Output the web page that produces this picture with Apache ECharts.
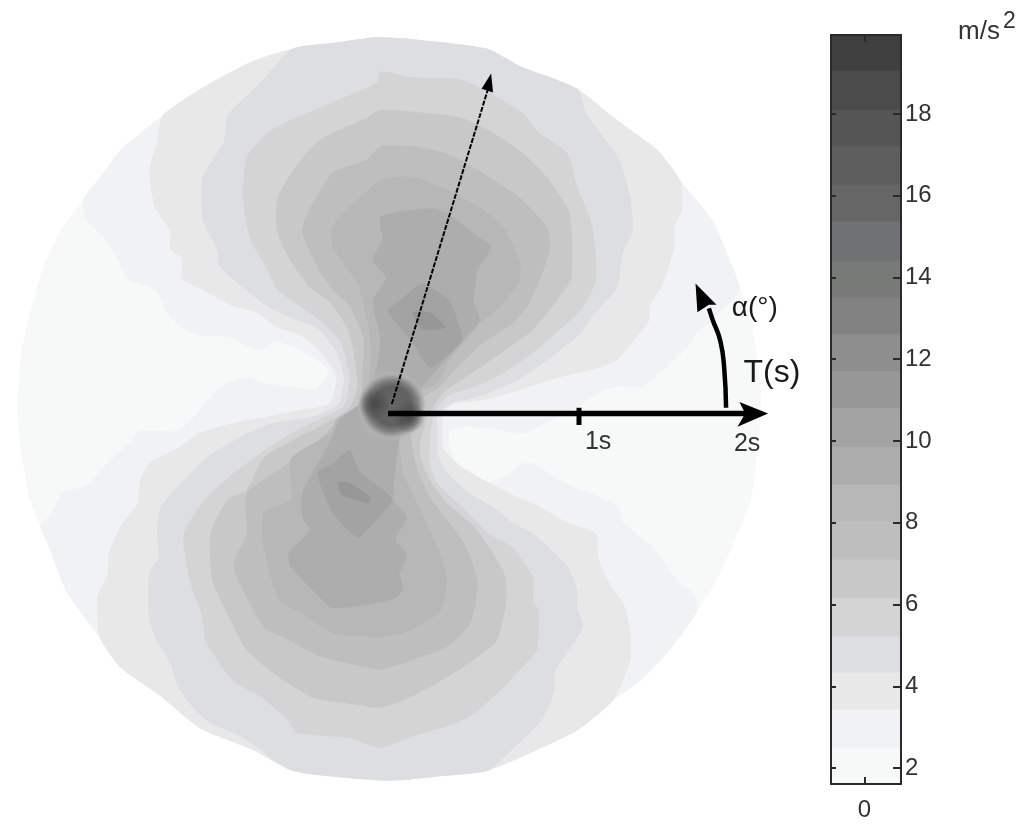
<!DOCTYPE html>
<html>
<head>
<meta charset="UTF-8">
<title></title>
<script src="https://cdn.jsdelivr.net/npm/echarts@6/dist/echarts.min.js"></script>
<style>
    html, body { margin: 0; padding: 0; background: #fff; }
    #main { width: 1024px; height: 827px; }
</style>
</head>

<body>
<div id="main"></div>
<script>
    // colour bar, bottom to top, m/s2
    var bandEdges = [1.61, 2.47, 3.44, 4.34, 5.22, 6.15, 7.10, 8.03, 8.93, 9.85, 10.8, 11.71, 12.61, 13.51, 14.41, 15.37, 16.27, 17.2, 18.1, 19.05];
    var bandColors = ['#f7f9f8', '#f1f2f4', '#e8e8e8', '#dddee0', '#d3d4d3', '#c8c8c8', '#bebebe', '#b6b7b6', '#adadad', '#a3a3a3', '#979797', '#8e8e8e', '#828282', '#787a78', '#6f7173', '#666666', '#5e5e5e', '#555555', '#4b4b4b', '#404040'];
    var barTicks = [2, 4, 6, 8, 10, 12, 14, 16, 18];
    var barMin = 1.61;
    var barMax = 19.93;

    // contour lines, points are [T cos(alpha), T sin(alpha)] in seconds
    var discEdge = [[-1.94,-0.03],[-1.94,0.07],[-1.92,0.32],[-1.87,0.54],[-1.81,0.75],[-1.72,0.95],[-1.60,1.11],[-1.49,1.26],[-1.40,1.38],[-1.18,1.56],[-0.98,1.70],[-0.72,1.84],[-0.50,1.91],[-0.29,1.94],[-0.06,1.97],[0.13,1.96],[0.52,1.91],[0.69,1.82],[0.99,1.70],[1.18,1.55],[1.41,1.38],[1.53,1.22],[1.70,1.01],[1.79,0.80],[1.90,0.49],[1.95,0.14],[1.95,-0.03],[1.93,-0.24],[1.90,-0.45],[1.81,-0.68],[1.70,-0.91],[1.62,-1.03],[1.49,-1.22],[1.32,-1.40],[1.18,-1.50],[0.99,-1.66],[0.74,-1.78],[0.52,-1.87],[0.26,-1.90],[0.06,-1.92],[-0.06,-1.92],[-0.50,-1.87],[-0.71,-1.76],[-0.98,-1.65],[-1.19,-1.48],[-1.40,-1.33],[-1.51,-1.17],[-1.68,-0.94],[-1.77,-0.71],[-1.82,-0.59],[-1.88,-0.44],[-1.93,-0.14]];

    var f1Left = [[-1.77,-0.53],[-1.70,-0.41],[-1.58,-0.38],[-1.47,-0.26],[-1.34,-0.14],[-1.30,-0.09],[-1.10,-0.09],[-1.00,0.00],[-0.91,0.11],[-0.84,0.16],[-0.74,0.19],[-0.65,0.16],[-0.50,0.14],[-0.37,0.13],[-0.31,0.22],[-0.36,0.27],[-0.46,0.33],[-0.59,0.38],[-0.67,0.33],[-0.71,0.34],[-0.84,0.40],[-1.00,0.41],[-1.09,0.46],[-1.16,0.53],[-1.21,0.64],[-1.37,0.71],[-1.42,0.82],[-1.49,0.92],[-1.57,1.00]];
    var f1Right = [[1.84,0.65],[1.70,0.49],[1.63,0.44],[1.57,0.35],[1.42,0.21],[1.32,0.14],[1.20,0.14],[1.11,0.11],[0.95,0.01],[0.83,-0.05],[0.73,-0.10],[0.64,-0.10],[0.55,-0.08],[0.39,-0.07],[0.32,-0.10],[0.34,-0.23],[0.43,-0.32],[0.53,-0.36],[0.63,-0.32],[0.71,-0.26],[0.78,-0.27],[0.90,-0.35],[1.09,-0.43],[1.21,-0.49],[1.23,-0.57],[1.39,-0.70],[1.46,-0.80],[1.53,-0.89],[1.60,-0.94]];

    var e8Left = [[-1.52,-0.96],[-1.47,-0.84],[-1.46,-0.73],[-1.40,-0.59],[-1.31,-0.47],[-1.30,-0.35],[-1.25,-0.26],[-1.10,-0.18],[-0.98,-0.10],[-0.81,-0.05],[-0.65,-0.02],[-0.46,0.02],[-0.31,0.05],[-0.27,0.19],[-0.36,0.33],[-0.46,0.41],[-0.58,0.45],[-0.69,0.53],[-0.81,0.56],[-0.92,0.62],[-1.04,0.68],[-1.08,0.71],[-1.08,0.81],[-1.14,0.86],[-1.14,0.95],[-1.22,1.08],[-1.25,1.27],[-1.21,1.42]];
    var e8Right = [[1.54,1.07],[1.50,0.98],[1.50,0.87],[1.44,0.68],[1.37,0.56],[1.37,0.49],[1.30,0.40],[1.20,0.28],[1.11,0.24],[0.94,0.20],[0.80,0.16],[0.65,0.11],[0.50,0.07],[0.34,0.05],[0.29,-0.01],[0.29,-0.18],[0.36,-0.26],[0.47,-0.33],[0.64,-0.42],[0.78,-0.48],[0.94,-0.57],[1.09,-0.63],[1.10,-0.75],[1.16,-0.89],[1.24,-1.01],[1.27,-1.15],[1.27,-1.29]];

    var ddLeft = [[-0.77,-1.69],[-0.93,-1.62],[-1.02,-1.54],[-1.10,-1.43],[-1.14,-1.31],[-1.21,-1.19],[-1.25,-1.08],[-1.25,-0.84],[-1.20,-0.75],[-1.21,-0.63],[-1.19,-0.49],[-1.07,-0.35],[-0.95,-0.23],[-0.77,-0.12],[-0.60,-0.05],[-0.41,-0.02],[-0.26,0.05],[-0.23,0.19],[-0.27,0.32],[-0.36,0.44],[-0.53,0.51],[-0.63,0.56],[-0.76,0.66],[-0.88,0.77],[-0.90,0.87],[-0.97,1.01],[-0.97,1.24],[-0.86,1.42],[-0.84,1.56],[-0.67,1.73]];
    var ddRight = [[1.04,1.57],[1.11,1.47],[1.21,1.33],[1.27,1.13],[1.28,0.95],[1.23,0.84],[1.20,0.66],[1.07,0.51],[1.01,0.42],[0.86,0.30],[0.69,0.18],[0.48,0.09],[0.32,0.05],[0.26,-0.01],[0.26,-0.12],[0.26,-0.21],[0.31,-0.31],[0.43,-0.42],[0.55,-0.49],[0.65,-0.57],[0.76,-0.63],[0.84,-0.70],[0.94,-0.80],[0.99,-0.92],[0.99,-1.01],[1.02,-1.12],[0.88,-1.34],[0.87,-1.46],[0.81,-1.60],[0.65,-1.76]];

    var contourD4 = [[-0.04,1.79],[0.13,1.76],[0.38,1.75],[0.53,1.68],[0.71,1.57],[0.78,1.48],[0.94,1.36],[0.99,1.19],[1.07,0.98],[1.09,0.70],[1.01,0.54],[0.90,0.44],[0.76,0.32],[0.60,0.21],[0.45,0.14],[0.31,0.09],[0.24,-0.01],[0.22,-0.14],[0.22,-0.28],[0.27,-0.38],[0.39,-0.49],[0.53,-0.63],[0.65,-0.70],[0.76,-0.86],[0.76,-0.98],[0.79,-1.03],[0.78,-1.24],[0.69,-1.34],[0.59,-1.45],[0.45,-1.57],[0.36,-1.62],[0.13,-1.69],[-0.04,-1.75],[-0.20,-1.70],[-0.48,-1.67],[-0.53,-1.60],[-0.67,-1.48],[-0.81,-1.40],[-0.95,-1.20],[-0.98,-1.04],[-1.04,-0.87],[-1.07,-0.63],[-0.95,-0.44],[-0.83,-0.33],[-0.67,-0.21],[-0.50,-0.10],[-0.36,-0.03],[-0.23,0.04],[-0.20,0.18],[-0.21,0.24],[-0.25,0.38],[-0.36,0.49],[-0.46,0.56],[-0.58,0.65],[-0.63,0.75],[-0.72,0.91],[-0.76,1.12],[-0.74,1.34],[-0.63,1.47],[-0.50,1.54],[-0.29,1.63],[-0.06,1.73]];
    var contourC7 = [[-0.04,1.59],[0.38,1.55],[0.55,1.47],[0.71,1.36],[0.83,1.24],[0.95,1.05],[0.96,0.71],[0.86,0.56],[0.76,0.44],[0.64,0.35],[0.48,0.24],[0.36,0.16],[0.29,0.11],[0.21,-0.01],[0.17,-0.14],[0.17,-0.23],[0.22,-0.35],[0.31,-0.47],[0.45,-0.59],[0.53,-0.70],[0.61,-0.84],[0.62,-0.98],[0.57,-1.19],[0.45,-1.29],[0.31,-1.38],[0.13,-1.48],[-0.04,-1.54],[-0.20,-1.52],[-0.39,-1.49],[-0.60,-1.36],[-0.74,-1.24],[-0.83,-1.07],[-0.92,-0.87],[-0.93,-0.63],[-0.84,-0.45],[-0.74,-0.40],[-0.65,-0.23],[-0.46,-0.12],[-0.32,-0.05],[-0.20,0.03],[-0.16,0.15],[-0.18,0.32],[-0.21,0.44],[-0.30,0.58],[-0.41,0.66],[-0.51,0.80],[-0.58,0.95],[-0.58,1.12],[-0.50,1.27],[-0.36,1.43],[-0.11,1.55]];
    var contourBd = [[-0.04,1.40],[0.13,1.40],[0.31,1.36],[0.48,1.27],[0.69,1.13],[0.83,0.98],[0.85,0.87],[0.81,0.74],[0.73,0.56],[0.65,0.47],[0.50,0.37],[0.38,0.26],[0.27,0.14],[0.17,0.07],[0.12,-0.09],[0.13,-0.19],[0.15,-0.28],[0.22,-0.44],[0.32,-0.57],[0.41,-0.70],[0.47,-0.89],[0.43,-1.10],[0.31,-1.22],[0.13,-1.29],[-0.04,-1.34],[-0.20,-1.31],[-0.36,-1.27],[-0.55,-1.17],[-0.65,-1.12],[-0.81,-0.80],[-0.74,-0.63],[-0.74,-0.42],[-0.55,-0.28],[-0.37,-0.15],[-0.29,-0.07],[-0.15,0.04],[-0.13,0.28],[-0.13,0.40],[-0.20,0.56],[-0.29,0.65],[-0.36,0.75],[-0.45,0.95],[-0.42,1.05],[-0.29,1.26],[-0.11,1.33]];
    var contourB5 = [[-0.04,1.22],[0.13,1.24],[0.31,1.17],[0.48,1.08],[0.60,0.98],[0.69,0.80],[0.69,0.70],[0.59,0.56],[0.48,0.47],[0.41,0.38],[0.32,0.28],[0.26,0.16],[0.13,0.10],[0.06,-0.14],[0.08,-0.31],[0.13,-0.42],[0.20,-0.57],[0.27,-0.73],[0.31,-0.87],[0.27,-1.04],[0.08,-1.15],[-0.04,-1.17],[-0.29,-1.15],[-0.46,-1.04],[-0.57,-0.98],[-0.65,-0.70],[-0.65,-0.52],[-0.51,-0.45],[-0.51,-0.24],[-0.30,-0.10],[-0.27,-0.03],[-0.12,0.07],[-0.09,0.32],[-0.11,0.49],[-0.16,0.68],[-0.29,0.87],[-0.29,0.98],[-0.18,1.10]];
    var contourAd = [[-0.04,1.03],[0.26,1.07],[0.48,0.92],[0.54,0.87],[0.47,0.75],[0.45,0.59],[0.48,0.49],[0.39,0.38],[0.24,0.21],[0.12,0.07],[0.06,-0.14],[0.03,-0.45],[0.10,-0.54],[0.04,-0.66],[0.10,-0.74],[0.06,-0.84],[0.08,-0.91],[0.05,-0.96],[-0.04,-0.99],[-0.29,-1.02],[-0.36,-0.96],[-0.51,-0.80],[-0.52,-0.73],[-0.41,-0.61],[-0.45,-0.54],[-0.45,-0.42],[-0.30,-0.14],[-0.25,-0.03],[-0.10,0.10],[-0.04,0.38],[-0.08,0.59],[-0.01,0.71],[-0.08,0.80],[-0.03,0.91]];
    var contourA3Upper = [[0.00,0.54],[0.06,0.59],[0.18,0.68],[0.32,0.59],[0.38,0.44],[0.39,0.38],[0.22,0.24],[0.13,0.37],[0.03,0.49]];
    var contourA3Lower = [[-0.20,-0.19],[-0.15,-0.30],[0.02,-0.45],[-0.10,-0.60],[-0.16,-0.65],[-0.29,-0.52],[-0.37,-0.31],[-0.29,-0.26]];
    var contour97Upper = [[0.13,0.53],[0.22,0.53],[0.30,0.45],[0.18,0.44]];
    var contour97Lower = [[-0.26,-0.36],[-0.21,-0.36],[-0.09,-0.44],[-0.11,-0.47],[-0.21,-0.44],[-0.25,-0.42]];

    // dark core round T=0
    var coreGlow = [[0.02, 0.04, 70]];
    var coreSpots = [[-0.07, 0.05, 32], [0.11, -0.02, 32]];

    // axis drawing
    var tAxis = [[0, 0], [1.90, 0]];
    var tick1s = [[1, 0.03], [1, -0.06]];
    var radialShaft = [[0.02, 0.05], [0.53, 1.72]];
    var alphaShaft = [[1.77, 0.03], [1.76, 0.24], [1.74, 0.38], [1.70, 0.49], [1.68, 0.55]];
    var tHead = [[1.99, 0], [1.84, 0.06], [1.87, 0], [1.83, -0.07]];
    var radialHead = [[0.54, 1.78], [0.49, 1.70], [0.55, 1.68]];
    var alphaHead = [[1.61, 0.68], [1.62, 0.53], [1.68, 0.57], [1.72, 0.57]];

    var axisTexts = [
        {name: '1s', value: [1.10, -0.15], label: {fontSize: 25, color: '#333333'}},
        {name: '2s', value: [1.88, -0.16], label: {fontSize: 25, color: '#333333'}},
        {name: 'T(s)', value: [2.01, 0.21], label: {fontSize: 32, color: '#1a1a1a'}},
        {name: 'α(°)', value: [1.92, 0.55], label: {fontSize: 28, color: '#1a1a1a'}}
    ];

    var fontName = 'Liberation Sans';
    var inkColor = '#333333';

    var layers = [
        {pts: discEdge, color: bandColors[0], smooth: 0.2},
        {pts: [].concat(discEdge.slice(6, 24), f1Right, discEdge.slice(31, 50), f1Left), color: bandColors[1], smooth: 0.2},
        {pts: [].concat(discEdge.slice(9, 22), e8Right, discEdge.slice(34, 47), e8Left), color: bandColors[2], smooth: 0.2},
        {pts: [].concat(discEdge.slice(12, 19), ddRight, discEdge.slice(37, 42), ddLeft), color: bandColors[3], smooth: 0.2},
        {pts: contourD4, color: bandColors[4], smooth: 0.2},
        {pts: contourC7, color: bandColors[5], smooth: 0.2},
        {pts: contourBd, color: bandColors[6], smooth: 0.2},
        {pts: contourB5, color: bandColors[7], smooth: 0.2},
        {pts: contourAd, color: bandColors[8], smooth: 0.2},
        {pts: contourA3Upper, color: bandColors[9], smooth: 0.2},
        {pts: contourA3Lower, color: bandColors[9], smooth: 0.2},
        {pts: contour97Upper, color: bandColors[10], smooth: 0.2},
        {pts: contour97Lower, color: bandColors[10], smooth: 0.2},
        {pts: tHead, color: '#000', smooth: 0},
        {pts: radialHead, color: '#000', smooth: 0},
        {pts: alphaHead, color: '#000', smooth: 0}
    ];

    function renderLayer(params, api) {
        var layer = layers[params.dataIndex];
        var points = layer.pts.map(function (p) { return api.coord(p); });
        return {
            type: 'polygon',
            shape: {points: points, smooth: layer.smooth},
            style: {fill: layer.color}
        };
    }

    // each band runs up to the bar top and the next one paints over it, so no seams show
    function renderBand(params, api) {
        var a = api.coord([-1, api.value(0)]);
        var b = api.coord([1.09, barMax]);
        return {
            type: 'rect',
            shape: {x: a[0], y: b[1], width: b[0] - a[0], height: a[1] - b[1]},
            style: {fill: bandColors[params.dataIndex]}
        };
    }

    function inkLine(points, width, dash, smooth) {
        return {
            type: 'line',
            data: points,
            showSymbol: false,
            silent: true,
            smooth: !!smooth,
            z: 4,
            animation: false,
            lineStyle: {color: '#000', width: width, type: dash || 'solid', cap: 'butt'}
        };
    }

    function coreColor(stops) {
        return {type: 'radial', x: 0.5, y: 0.5, r: 0.5, colorStops: stops};
    }

    var myChart = echarts.init(document.getElementById('main'));

    var barLine = {color: '#2a2a2a', width: 2};

    var option = {
        backgroundColor: '#ffffff',
        animation: false,
        grid: [
            {left: 6, top: 31.5, width: 764, height: 764},
            {left: 831, top: 35, width: 70, height: 749}
        ],
        xAxis: [
            {type: 'value', gridIndex: 0, min: -2, max: 2, show: false},
            {
                type: 'value', gridIndex: 1, min: -1, max: 1.09, position: 'bottom', z: 5,
                splitLine: {show: false},
                axisLine: {onZero: false, lineStyle: barLine},
                axisTick: {inside: true, length: 7, customValues: [0], lineStyle: barLine},
                axisLabel: {customValues: [0], margin: 14, fontFamily: fontName, fontSize: 24, color: inkColor}
            },
            {
                type: 'value', gridIndex: 1, min: -1, max: 1.09, position: 'top', z: 5,
                splitLine: {show: false},
                axisLine: {onZero: false, lineStyle: barLine},
                axisTick: {inside: true, length: 7, customValues: [0], lineStyle: barLine},
                axisLabel: {show: false}
            }
        ],
        yAxis: [
            {type: 'value', gridIndex: 0, min: -2, max: 2, show: false},
            {
                type: 'value', gridIndex: 1, min: barMin, max: barMax, position: 'right', z: 5,
                splitLine: {show: false},
                axisLine: {show: true, onZero: false, lineStyle: barLine},
                axisTick: {show: true, inside: true, length: 8, customValues: barTicks, lineStyle: barLine},
                axisLabel: {customValues: barTicks, margin: 4, padding: [3, 0, 0, 0], fontFamily: fontName, fontSize: 24, color: inkColor}
            },
            {
                type: 'value', gridIndex: 1, min: barMin, max: barMax, position: 'left', z: 5,
                splitLine: {show: false},
                axisLine: {show: true, onZero: false, lineStyle: barLine},
                axisTick: {show: true, inside: true, length: 5, customValues: barTicks, lineStyle: barLine},
                axisLabel: {show: false}
            }
        ],
        series: [
            {
                type: 'custom',
                xAxisIndex: 0,
                yAxisIndex: 0,
                silent: true,
                z: 2,
                renderItem: renderLayer,
                data: layers.map(function (l, i) { return [i]; })
            },
            {
                type: 'scatter',
                silent: true,
                z: 3,
                clip: false,
                data: coreGlow,
                symbolSize: function (v) { return v[2]; },
                itemStyle: {
                    opacity: 1,
                    color: coreColor([
                        {offset: 0, color: '#666666'},
                        {offset: 0.55, color: '#606060'},
                        {offset: 0.72, color: '#7c7c7c'},
                        {offset: 0.88, color: '#ababab'},
                        {offset: 1, color: 'rgba(190,190,190,0)'}
                    ])
                }
            },
            {
                type: 'scatter',
                silent: true,
                z: 3,
                clip: false,
                data: coreSpots,
                symbolSize: function (v) { return v[2]; },
                itemStyle: {
                    opacity: 1,
                    color: coreColor([
                        {offset: 0, color: 'rgba(70,70,70,0.9)'},
                        {offset: 1, color: 'rgba(70,70,70,0)'}
                    ])
                }
            },
            {
                type: 'custom',
                xAxisIndex: 1,
                yAxisIndex: 1,
                silent: true,
                z: 2,
                renderItem: renderBand,
                data: bandEdges.map(function (e) { return [e]; })
            },
            inkLine(tAxis, 5.5),
            inkLine(tick1s, 5),
            inkLine(radialShaft, 2, [5, 1.5]),
            inkLine(alphaShaft, 4.5, null, true),
            {
                type: 'scatter',
                silent: true,
                z: 5,
                clip: false,
                symbolSize: 0,
                data: axisTexts,
                itemStyle: {opacity: 1},
                label: {
                    show: true,
                    position: 'inside',
                    align: 'center',
                    verticalAlign: 'middle',
                    fontFamily: fontName,
                    formatter: function (p) { return p.name; }
                }
            }
        ],
        graphic: [
            {type: 'text', left: 958, top: 19, style: {text: 'm/s', fontFamily: fontName, fontSize: 26, fill: inkColor}},
            {type: 'text', left: 1003, top: 10, style: {text: '2', fontFamily: fontName, fontSize: 23, fill: inkColor}}
        ]
    };

    myChart.setOption(option);
</script>
</body>
</html>
